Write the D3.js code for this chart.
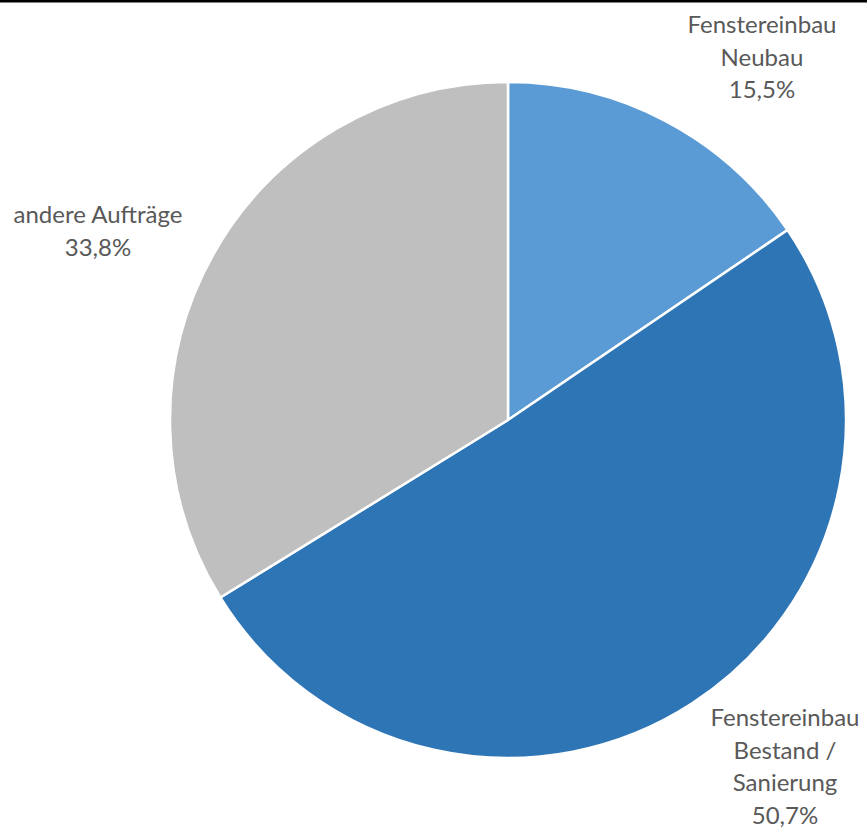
<!DOCTYPE html>
<html>
<head>
<meta charset="utf-8">
<script src="https://cdn.jsdelivr.net/npm/d3@7"></script>
<style>
  html, body { margin: 0; padding: 0; background: #fff; }
  svg { display: block; }
</style>
</head>
<body>
<script>
const categories = ["Fenstereinbau Neubau", "Fenstereinbau Bestand / Sanierung", "andere Aufträge"];
const values = [15.5, 50.7, 33.8];
const labelLines = [
  ["Fenstereinbau", "Neubau", "15,5%"],
  ["Fenstereinbau", "Bestand /", "Sanierung", "50,7%"],
  ["andere Aufträge", "33,8%"]
];
const colors = ["#5B9BD5", "#2E75B6", "#BFBFBF"];

const W = 867, H = 828;
const cx = 508, cy = 420, R = 338;

const svg = d3.select("body").append("svg").attr("width", W).attr("height", H);

svg.append("rect").attr("x", 0).attr("y", 0).attr("width", W).attr("height", 2.5).attr("fill", "#000");

const pie = d3.pie().sort(null).value(d => d)(values);
const arc = d3.arc().innerRadius(0).outerRadius(R);

const g = svg.append("g").attr("transform", `translate(${cx},${cy})`);
g.selectAll("path").data(pie).join("path")
  .attr("d", arc)
  .attr("fill", (d, i) => colors[i])
  .attr("stroke", "#fff")
  .attr("stroke-width", 2.5)
  .attr("stroke-linejoin", "round");

// label anchor positions (center x, first baseline y)
const labelPos = [[762, 33], [785, 726], [98, 223]];
const lineH = 32.5;
labelLines.forEach((lines, i) => {
  const t = svg.append("text")
    .attr("text-anchor", "middle")
    .attr("font-family", "Lato, 'Open Sans', sans-serif")
    .attr("font-size", 24)
    .attr("fill", "#595959");
  lines.forEach((l, j) => {
    t.append("tspan").attr("x", labelPos[i][0]).attr("y", labelPos[i][1] + j * lineH).text(l);
  });
});
</script>
</body>
</html>
